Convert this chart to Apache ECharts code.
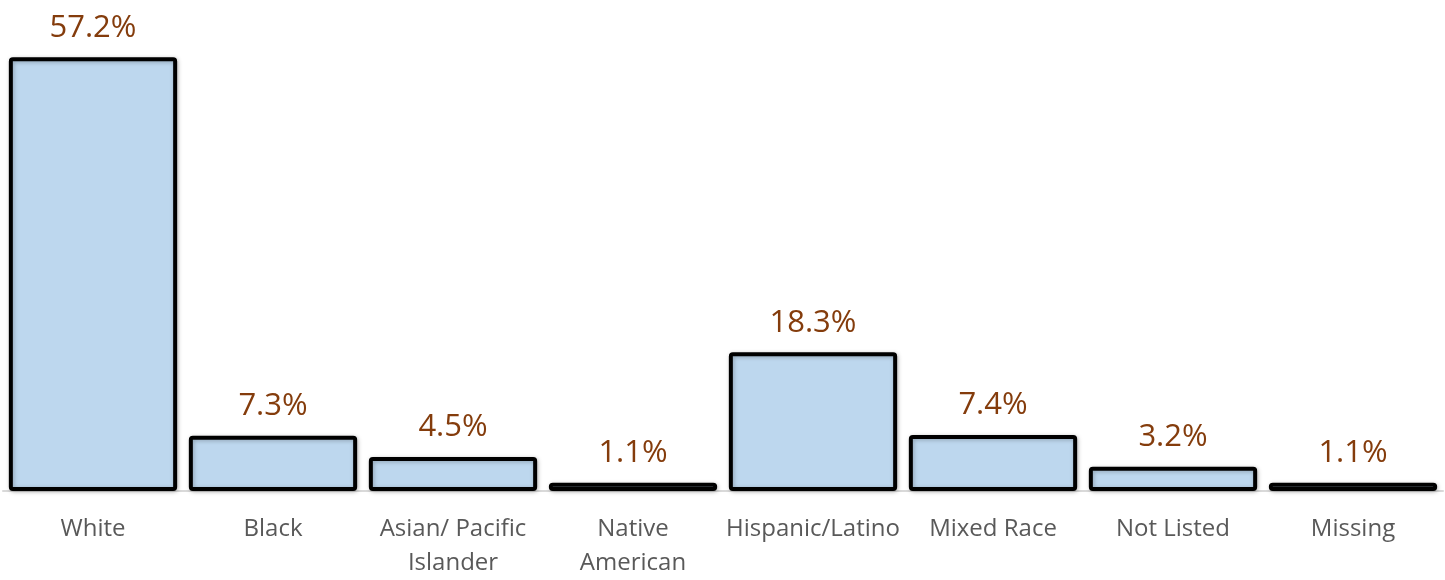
<!DOCTYPE html>
<html><head><meta charset="utf-8">
<script src="https://cdn.jsdelivr.net/npm/echarts@6/dist/echarts.min.js"></script>
<style>html,body{margin:0;padding:0;background:#fff}#c{width:1445px;height:580px}</style>
</head><body><div id="c"></div>
<script>
const categories = ["White","Black","Asian/ Pacific\nIslander","Native\nAmerican","Hispanic/Latino","Mixed Race","Not Listed","Missing"];
const values = [57.2,7.3,4.5,1.1,18.3,7.4,3.2,1.1];
const chart = echarts.init(document.getElementById('c'));
chart.setOption({
  animation:false,
  grid:{left:3,right:2,top:36,bottom:82},
  xAxis:{type:'category',data:categories,
    axisLine:{lineStyle:{color:'#d9d9d9',width:2}},
    axisTick:{show:false},
    axisLabel:{color:'#595959',fontSize:24,fontFamily:'Open Sans',margin:21,lineHeight:34,interval:0}},
  yAxis:{type:'value',min:0,max:60,show:false,splitLine:{show:false}},
  series:[{type:'bar',data:values,barCategoryGap:'6.5%',
    itemStyle:{color:'#BDD7EE',borderColor:'#000',borderWidth:4,borderRadius:2,
      shadowColor:'rgba(0,0,0,0.25)',shadowBlur:4,shadowOffsetX:1,shadowOffsetY:1},
    label:{show:true,position:'top',distance:14,color:'#843C0C',fontSize:31,fontFamily:'Open Sans',
      formatter:p=>p.value.toFixed(1)+'%'}}]
});
</script></body></html>
